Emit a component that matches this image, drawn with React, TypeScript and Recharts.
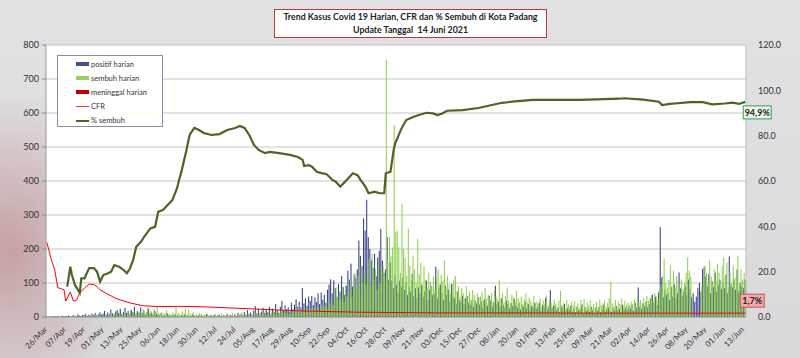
import React from 'react';
import {
  ComposedChart,
  Bar,
  Line,
  XAxis,
  YAxis,
  CartesianGrid,
} from 'recharts';

// tick labels, one every 12 days starting 26/Mar/2020
const tickLabels = [
  '26/Mar', '07/Apr', '19/Apr', '01/May', '13/May', '25/May', '06/Jun', '18/Jun',
  '30/Jun', '12/Jul', '24/Jul', '05/Aug', '17/Aug', '29/Aug', '10/Sep', '22/Sep',
  '04/Oct', '16/Oct', '28/Oct', '09/Nov', '21/Nov', '03/Dec', '15/Dec', '27/Dec',
  '08/Jan', '20/Jan', '01/Feb', '13/Feb', '25/Feb', '09/Mar', '21/Mar', '02/Apr',
  '14/Apr', '26/Apr', '08/May', '20/May', '01/Jun', '13/Jun',
];

// daily values, rows of 12 days (same rows as the tick labels)
const positifHarian = [
  1, 0, 2, 0, 1, 3, 0, 2, 1, 0, 4, 2,
  3, 1, 5, 2, 0, 6, 3, 2, 8, 4, 3, 6,
  5, 9, 3, 7, 4, 10, 6, 12, 5, 8, 14, 7,
  10, 18, 6, 13, 9, 22, 11, 8, 16, 20, 12, 24,
  9, 15, 27, 12, 18, 8, 21, 14, 30, 10, 17, 13,
  28, 11, 19, 7, 15, 24, 9, 13, 6, 18, 10, 8,
  5, 12, 4, 8, 3, 10, 6, 2, 7, 4, 9, 3,
  4, 2, 6, 3, 8, 1, 5, 3, 2, 7, 4, 2,
  3, 6, 2, 5, 1, 4, 8, 2, 3, 5, 1, 6,
  2, 4, 7, 3, 1, 5, 2, 9, 3, 6, 4, 2,
  8, 3, 12, 5, 10, 4, 15, 7, 20, 9, 13, 6,
  18, 32, 11, 24, 8, 16, 27, 12, 22, 14, 30, 10,
  25, 15, 38, 20, 12, 30, 47, 18, 35, 22, 28, 16,
  42, 24, 36, 52, 30, 45, 28, 85, 40, 55, 33, 60,
  48, 62, 35, 58, 44, 70, 38, 72, 50, 65, 42, 80,
  95, 111, 70, 108, 85, 60, 97, 75, 120, 88, 65, 92,
  136, 110, 157, 90, 125, 116, 140, 225, 180, 150, 290, 254,
  345, 235, 200, 166, 145, 186, 120, 175, 195, 259, 166, 130,
  140, 235, 110, 160, 107, 85, 125, 95, 70, 107, 90, 115,
  80, 100, 65, 90, 75, 127, 60, 85, 55, 87, 70, 95,
  60, 75, 107, 50, 80, 92, 65, 70, 148, 55, 85, 95,
  70, 50, 92, 65, 80, 45, 97, 60, 55, 40, 75, 50,
  45, 62, 38, 55, 62, 42, 35, 50, 30, 48, 40, 58,
  36, 45, 28, 52, 40, 33, 62, 48, 30, 42, 92, 38,
  45, 30, 55, 35, 28, 48, 38, 25, 42, 32, 53, 35,
  28, 40, 22, 35, 30, 45, 25, 38, 20, 32, 27, 42,
  24, 30, 42, 18, 35, 28, 56, 22, 30, 79, 25, 33,
  33, 20, 28, 15, 30, 24, 38, 18, 26, 22, 34, 16,
  25, 14, 30, 20, 22, 35, 12, 28, 18, 24, 16, 30,
  20, 12, 26, 18, 30, 14, 22, 35, 16, 24, 28, 19,
  15, 26, 20, 32, 18, 24, 14, 36, 22, 28, 20, 30,
  25, 35, 18, 42, 28, 87, 30, 24, 40, 32, 45, 28,
  38, 55, 65, 42, 60, 35, 72, 264, 116, 58, 80, 65,
  72, 50, 88, 60, 95, 55, 70, 131, 84, 62, 75, 90,
  65, 110, 80, 58, 70, 45, 60, 85, 100, 75, 141, 148,
  120, 90, 126, 70, 105, 88, 130, 75, 95, 110, 82, 100,
  85, 125, 70, 178, 95, 87, 110, 80, 140, 75, 100, 90,
  85, 110,
];

const sembuhHarian = [
  0, 0, 0, 1, 0, 0, 2, 0, 0, 1, 0, 0,
  0, 2, 0, 1, 0, 3, 0, 0, 2, 1, 0, 4,
  1, 0, 3, 2, 0, 5, 1, 4, 0, 6, 2, 3,
  4, 8, 2, 6, 12, 3, 9, 5, 14, 4, 10, 7,
  6, 15, 5, 11, 8, 18, 4, 12, 9, 16, 7, 13,
  10, 22, 8, 15, 28, 12, 18, 9, 25, 14, 32, 11,
  8, 15, 5, 12, 20, 7, 10, 4, 14, 6, 27, 9,
  12, 5, 18, 9, 24, 6, 23, 11, 7, 15, 4, 10,
  6, 12, 9, 4, 8, 3, 10, 5, 7, 2, 6, 9,
  4, 8, 3, 11, 6, 2, 9, 5, 7, 3, 12, 4,
  6, 3, 9, 5, 13, 4, 8, 2, 10, 6, 5, 9,
  7, 12, 4, 10, 15, 6, 9, 18, 5, 12, 8, 14,
  18, 10, 16, 7, 13, 20, 9, 15, 11, 24, 8, 17,
  12, 20, 15, 26, 10, 23, 18, 14, 27, 16, 22, 12,
  25, 18, 27, 22, 30, 15, 28, 35, 20, 32, 45, 26,
  40, 55, 35, 62, 87, 48, 70, 52, 80, 45, 92, 60,
  75, 110, 60, 90, 130, 85, 120, 70, 150, 100, 140, 95,
  120, 170, 90, 186, 110, 140, 80, 160, 100, 130, 150, 120,
  757, 160, 235, 180, 205, 565, 250, 254, 205, 130, 333, 200,
  175, 121, 260, 150, 110, 180, 140, 101, 230, 125, 160, 95,
  150, 110, 85, 130, 105, 90, 120, 80, 115, 140, 95, 125,
  107, 166, 85, 120, 95, 70, 97, 110, 121, 75, 90, 60,
  85, 70, 55, 90, 62, 75, 50, 80, 65, 45, 70, 58,
  60, 72, 48, 85, 55, 65, 50, 70, 45, 80, 60, 52,
  108, 55, 70, 45, 62, 87, 50, 40, 65, 58, 48, 77,
  55, 45, 60, 38, 52, 70, 42, 57, 48, 35, 62, 40,
  45, 38, 55, 30, 48, 40, 62, 35, 50, 42, 28, 52,
  40, 30, 48, 77, 35, 42, 25, 50, 38, 30, 45, 35,
  47, 32, 40, 28, 50, 38, 53, 30, 42, 35, 48, 25,
  38, 30, 45, 28, 52, 35, 40, 48, 30, 42, 55, 104,
  40, 32, 50, 28, 45, 38, 55, 30, 48, 36, 42, 34,
  45, 38, 52, 30, 60, 42, 50, 35, 55, 40, 62, 48,
  55, 65, 48, 70, 60, 52, 80, 95, 120, 171, 100, 85,
  110, 151, 90, 136, 87, 120, 95, 75, 110, 84, 100, 130,
  175, 136, 120, 0, 0, 0, 0, 0, 0, 90, 110, 150,
  130, 100, 166, 120, 95, 140, 110, 156, 130, 90, 150, 175,
  120, 160, 87, 130, 100, 150, 115, 121, 180, 95, 140, 110,
  130, 100,
];

const meninggalHarian = [
  1, 0, 0, 1, 0, 0, 2, 0, 0, 0, 1, 0,
  0, 1, 0, 0, 0, 1, 0, 0, 0, 0, 1, 0,
  0, 0, 1, 0, 0, 0, 0, 1, 0, 0, 0, 0,
  1, 0, 0, 0, 0, 0, 0, 0, 1, 0, 0, 0,
  0, 0, 0, 1, 0, 0, 0, 0, 0, 0, 0, 0,
  0, 1, 0, 0, 0, 0, 0, 0, 0, 0, 1, 0,
  0, 0, 0, 0, 0, 0, 0, 0, 0, 0, 0, 0,
  0, 0, 0, 0, 0, 1, 0, 0, 0, 0, 0, 0,
  0, 0, 0, 0, 0, 0, 0, 0, 0, 0, 0, 0,
  0, 0, 0, 0, 0, 0, 1, 0, 0, 0, 0, 0,
  0, 0, 0, 0, 0, 0, 0, 0, 1, 0, 0, 0,
  0, 1, 0, 0, 0, 0, 0, 1, 0, 0, 0, 0,
  0, 0, 1, 0, 0, 0, 1, 0, 0, 0, 1, 0,
  1, 0, 0, 1, 0, 0, 2, 0, 0, 1, 0, 0,
  0, 2, 0, 1, 0, 0, 1, 0, 2, 0, 1, 0,
  1, 0, 2, 0, 1, 0, 3, 1, 0, 2, 0, 1,
  2, 1, 0, 3, 1, 2, 0, 1, 4, 2, 1, 3,
  2, 3, 1, 2, 0, 4, 1, 2, 3, 1, 2, 0,
  3, 1, 2, 0, 2, 1, 3, 0, 1, 2, 0, 1,
  1, 2, 0, 1, 0, 2, 1, 0, 1, 0, 2, 1,
  0, 1, 2, 0, 1, 0, 1, 3, 0, 1, 0, 2,
  1, 0, 1, 0, 2, 0, 1, 0, 0, 1, 0, 1,
  0, 1, 0, 2, 0, 1, 0, 0, 1, 0, 0, 1,
  0, 0, 1, 0, 1, 0, 0, 2, 0, 0, 1, 0,
  1, 0, 0, 1, 0, 0, 1, 0, 0, 0, 1, 0,
  0, 1, 0, 0, 0, 1, 0, 0, 1, 0, 0, 0,
  0, 0, 1, 0, 0, 0, 0, 1, 0, 0, 0, 1,
  0, 0, 0, 1, 0, 0, 0, 0, 0, 1, 0, 0,
  1, 0, 0, 0, 0, 0, 1, 0, 0, 0, 0, 0,
  0, 0, 0, 1, 0, 0, 0, 0, 1, 0, 0, 0,
  0, 1, 0, 0, 0, 0, 0, 1, 0, 0, 0, 0,
  0, 0, 0, 1, 0, 0, 0, 0, 0, 1, 0, 0,
  1, 0, 0, 0, 1, 0, 0, 2, 0, 0, 1, 0,
  0, 1, 0, 0, 2, 0, 1, 0, 0, 1, 0, 0,
  1, 0, 0, 0, 0, 0, 0, 0, 1, 0, 0, 1,
  0, 1, 0, 1, 0, 2, 0, 0, 1, 0, 1, 0,
  1, 0, 2, 0, 0, 1, 0, 1, 0, 2, 0, 0,
  1, 0,
];

// CFR (%) read at selected days
const cfrDays = [0, 3, 5, 7, 11, 12, 15, 17, 19, 21, 24, 27, 30, 32, 34, 38, 44, 53, 61, 70, 85, 100, 140, 160, 200, 250, 300, 350, 445];
const cfrValues = [33, 25, 21, 13, 12, 7, 11, 7, 7.5, 10.6, 12.8, 14.5, 14.3, 13.4, 12, 10.4, 8.2, 6.2, 5, 4.6, 4.7, 4.5, 3.3, 2.7, 2.1, 1.8, 1.8, 1.7, 1.7];

// % sembuh read at selected days
const sembuhPctDays = [
  13, 15, 16, 18, 21, 22, 24, 27, 30, 32, 34, 36, 39, 41, 43, 46, 49, 51, 53, 55,
  57, 60, 62, 66, 69, 71, 74, 77, 80, 83, 84, 86, 89, 91, 94, 97, 100, 105, 110, 115,
  120, 123, 126, 129, 132, 135, 139, 142, 148, 155, 160, 163, 164, 167, 169, 172, 175, 178, 180, 182,
  184, 187, 190, 193, 195, 198, 200, 203, 205, 209, 212, 215, 216, 219, 221, 222, 226, 229, 233, 237,
  242, 246, 249, 252, 255, 265, 275, 290, 300, 310, 340, 365, 368, 380, 390, 392, 397, 402, 410, 418,
  424, 432, 437, 441, 445,
];
const sembuhPctValues = [
  13.4, 22.2, 18.5, 14.1, 10.6, 17, 17, 21.6, 21.6, 20, 15.6, 18.5, 19.3, 20, 22.9, 22.2, 20.7, 19.3, 21.4, 25.1,
  31, 33.2, 35.4, 39.1, 39.8, 46.4, 47.2, 49.4, 51.6, 56.8, 59.7, 64.8, 73.7, 80.3, 83.4, 82.5, 81.2, 80.3, 80.7, 82.5,
  83.4, 84.3, 83.4, 80.3, 75.9, 73.7, 72.3, 72.8, 72.3, 71.5, 70.6, 69.3, 66.6, 67, 66.3, 64.1, 63.5, 63.1, 61.9, 60.4,
  59.8, 57.5, 59.7, 61.9, 63.4, 62.6, 60.4, 57.5, 54.6, 55.3, 54.6, 54.6, 63.4, 64.1, 73.7, 76.6, 83.2, 86.9, 88.1, 89.1,
  90.1, 89.8, 89.1, 89.8, 91, 91.3, 92.2, 94.5, 95.2, 95.8, 95.8, 96.3, 96.5, 95.9, 95, 93.5, 94, 94.3, 94.8, 94.8,
  93.8, 94.2, 94.6, 94, 94.9,
];

const cfrByDay = new Map(cfrDays.map((d, k) => [d, cfrValues[k]]));
const pctByDay = new Map(sembuhPctDays.map((d, k) => [d, sembuhPctValues[k]]));

const chartData = positifHarian.map((p, i) => ({
  day: i,
  positif: p,
  sembuh: sembuhHarian[i] ?? 0,
  meninggal: meninggalHarian[i] ?? 0,
  cfr: cfrByDay.has(i) ? cfrByDay.get(i) : null,
  pct: pctByDay.has(i) ? pctByDay.get(i) : null,
}));
const lastDay = chartData.length - 1;

const FONT = 'Lato, "Open Sans", sans-serif';

// bars are thinner than a pixel at this density, so draw each at 1px
const ThinBar = (props: any) => {
  const { x, y, height, fill } = props;
  if (!height || height <= 0) return <g />;
  return <rect x={x} y={y} width={1.05} height={height} fill={fill} />;
};

const DateTick = (props: any) => {
  const { x, y, payload } = props;
  const label = tickLabels[Math.round(payload.value / 12)];
  if (!label) return null;
  return (
    <text
      x={x + 1}
      y={y + 5}
      transform={`rotate(-45 ${x + 1} ${y + 5})`}
      textAnchor="end"
      fontSize={8}
      fill="#333"
      fontFamily={FONT}
    >
      {label}
    </text>
  );
};

const EndLabel = ({ x, y, index, text, fill, stroke, dx, dy, w }: any) => {
  if (index !== lastDay || x == null) return null;
  return (
    <g>
      <rect x={x + dx} y={y + dy} width={w} height={13} fill={fill} stroke={stroke} strokeWidth={1} />
      <text x={x + dx + w / 2} y={y + dy + 10} textAnchor="middle" fontSize={9} fontWeight={700} fill="#222" fontFamily={FONT}>
        {text}
      </text>
    </g>
  );
};

const legendItems = [
  { name: 'positif harian', kind: 'bar', color: '#4a4a8c' },
  { name: 'sembuh harian', kind: 'bar', color: '#9ccf5a' },
  { name: 'meninggal harian', kind: 'bar', color: '#c00000' },
  { name: 'CFR', kind: 'thin', color: '#ff3030' },
  { name: '% sembuh', kind: 'thick', color: '#4f6228' },
];

const App: React.FC = () => {
  return (
    <div
      style={{
        position: 'absolute',
        left: 0,
        top: 0,
        width: 800,
        height: 358,
        overflow: 'hidden',
        fontFamily: FONT,
        background:
          'radial-gradient(ellipse 120px 160px at 10px 250px, rgba(170,90,90,0.45), rgba(170,90,90,0) 100%), linear-gradient(180deg, #e2e2e4 0%, #d9d9db 100%)',
      }}
    >
      <ComposedChart
        width={800}
        height={358}
        data={chartData}
        margin={{ top: 45, right: 0, bottom: 6, left: 0 }}
        barCategoryGap={0}
        barGap={0}
      >
        <CartesianGrid vertical={false} stroke="#c4c4c4" fill="#ffffff" yAxisId="left" />
        <XAxis
          dataKey="day"
          interval={11}
          tick={<DateTick />}
          tickLine={false}
          axisLine={{ stroke: '#999' }}
          height={35}
        />
        <XAxis xAxisId="m" dataKey="day" hide />
        <YAxis
          yAxisId="left"
          width={46}
          domain={[0, 800]}
          ticks={[0, 100, 200, 300, 400, 500, 600, 700, 800]}
          tick={{ fontSize: 9, fill: '#333', fontFamily: FONT }}
          tickSize={4}
          tickMargin={3}
          tickLine={{ stroke: '#888' }}
          axisLine={{ stroke: '#999' }}
        />
        <YAxis
          yAxisId="right"
          orientation="right"
          width={54}
          domain={[0, 120]}
          ticks={[0, 20, 40, 60, 80, 100, 120]}
          tickFormatter={(v: number) => v.toFixed(1)}
          tick={{ fontSize: 9, fill: '#333', fontFamily: FONT, textAnchor: 'start' }}
          tickLine={false}
          tickMargin={6}
          axisLine={{ stroke: '#bbb' }}
        />
        <Bar yAxisId="left" dataKey="positif" fill="#34408a" shape={<ThinBar />} isAnimationActive={false} />
        <Bar yAxisId="left" dataKey="sembuh" fill="#8fcf4f" shape={<ThinBar />} isAnimationActive={false} />
        <Bar yAxisId="left" xAxisId="m" dataKey="meninggal" fill="#c00000" shape={<ThinBar />} isAnimationActive={false} />
        <Line
          yAxisId="right"
          dataKey="cfr"
          type="linear"
          stroke="#ff0000"
          strokeWidth={1}
          dot={false}
          connectNulls
          isAnimationActive={false}
          label={(p: any) => (
            <EndLabel {...p} key="cfr-lbl" text="1,7%" fill="#f3aaaa" stroke="#d05050" dx={-5} dy={-19} w={24} />
          )}
        />
        <Line
          yAxisId="right"
          dataKey="pct"
          type="linear"
          stroke="#4f6228"
          strokeWidth={2.2}
          dot={false}
          connectNulls
          isAnimationActive={false}
          label={(p: any) => (
            <EndLabel {...p} key="pct-lbl" text="94,9%" fill="#eef6e4" stroke="#2fa050" dx={-2} dy={4} w={28} />
          )}
        />
      </ComposedChart>

      <div
        style={{
          position: 'absolute',
          left: 274,
          top: 9,
          width: 271,
          height: 26,
          border: '1px solid #b83a3a',
          background: '#fff',
          textAlign: 'center',
          fontSize: 8.8,
          fontWeight: 700,
          lineHeight: '12.5px',
          color: '#222',
          paddingTop: 1,
          whiteSpace: 'nowrap',
        }}
      >
        <div>Trend Kasus Covid 19 Harian, CFR dan % Sembuh di Kota Padang</div>
        <div>Update Tanggal&nbsp;&nbsp;14 Juni 2021</div>
      </div>

      <div
        style={{
          position: 'absolute',
          left: 57,
          top: 55,
          width: 104,
          height: 70,
          border: '1px solid #8a8aa8',
          background: '#fff',
        }}
      >
        {legendItems.map((it, k) => (
          <div
            key={it.name}
            style={{ position: 'absolute', left: 18, top: 3 + k * 14.2, height: 10, display: 'flex', alignItems: 'center' }}
          >
            <div
              style={{
                width: 13,
                height: it.kind === 'bar' ? 4 : it.kind === 'thick' ? 2.5 : 1,
                background: it.color,
                marginRight: 2,
              }}
            />
            <span style={{ fontSize: 7.5, color: '#333' }}>{it.name}</span>
          </div>
        ))}
      </div>
    </div>
  );
};

export default App;
